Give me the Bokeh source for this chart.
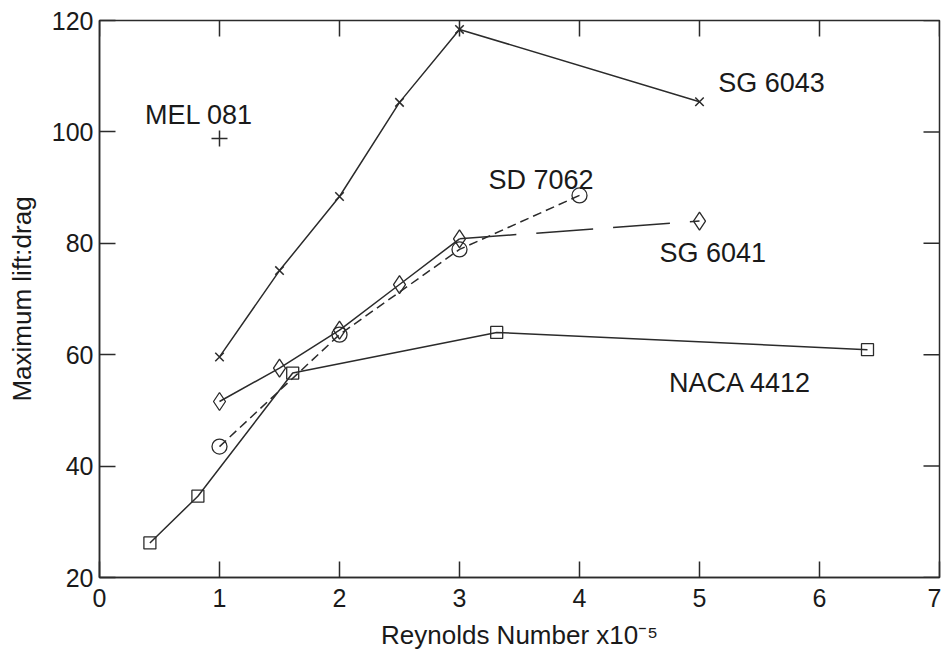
import math
from bokeh.plotting import figure
from bokeh.models import FixedTicker, Range1d, ColumnDataSource
from bokeh.embed import file_html
from bokeh.resources import INLINE
from bokeh.core.properties import value

# ---- data ----
mel081_x = [1.0]
mel081_y = [98.8]

sg6043_x = [1.0, 1.5, 2.0, 2.5, 3.0, 5.0]
sg6043_y = [59.6, 75.1, 88.4, 105.3, 118.4, 105.4]

sd7062_x = [1.0, 2.0, 3.0, 4.0]
sd7062_y = [43.5, 63.6, 78.9, 88.6]

sg6041_x = [1.0, 1.5, 2.0, 2.5, 3.0, 5.0]
sg6041_y = [51.6, 57.6, 64.4, 72.6, 80.8, 84.0]

naca4412_x = [0.42, 0.82, 1.61, 3.31, 6.40]
naca4412_y = [26.2, 34.6, 56.7, 64.0, 60.9]

x_ticks = [0, 1, 2, 3, 4, 5, 6, 7]
y_ticks = [20, 40, 60, 80, 100, 120]

label_texts = ["MEL 081", "SG 6043", "SD 7062", "SG 6041", "NACA 4412"]
# annotation anchor positions (text centre, baseline) in data units
label_x = [0.83, 5.60, 3.68, 5.11, 5.34]
label_y = [103.1, 108.8, 91.4, 78.2, 55.0]

FONT = "Liberation Sans"
INK = "#1a1a1a"
LINE = "#2b2b2b"

p = figure(width=941, height=652, output_backend="svg", toolbar_location=None,
           x_range=Range1d(x_ticks[0], x_ticks[-1]), y_range=Range1d(y_ticks[0], y_ticks[-1]),
           min_border_left=99, min_border_right=2, min_border_top=20, min_border_bottom=73,
           background_fill_color="white", border_fill_color="white")
p.grid.visible = False
p.outline_line_color = LINE
p.outline_line_width = 1.5

for ax, ticks in ((p.xaxis[0], x_ticks), (p.yaxis[0], y_ticks)):
    ax.ticker = FixedTicker(ticks=ticks)
    ax.major_tick_in = 16
    ax.major_tick_out = 0
    ax.minor_tick_line_color = None
    ax.axis_line_color = LINE
    ax.axis_line_width = 1.5
    ax.major_tick_line_color = LINE
    ax.major_tick_line_width = 1.5
    ax.major_label_text_font = FONT
    ax.major_label_text_font_size = "25px"
    ax.major_label_text_color = INK
    ax.axis_label_text_font = FONT
    ax.axis_label_text_font_size = "26px"
    ax.axis_label_text_font_style = "normal"
    ax.axis_label_text_color = INK

p.xaxis[0].axis_label = "Reynolds Number x10\u207b\u2075"
p.xaxis[0].major_label_standoff = 11
p.xaxis[0].axis_label_standoff = 10
p.yaxis[0].axis_label = "Maximum lift:drag"
p.yaxis[0].major_label_standoff = 6
p.yaxis[0].axis_label_standoff = 12

# mirrored inward ticks on the top and right edges (clipped to the frame)
p.scatter(x_ticks, [y_ticks[-1]] * len(x_ticks), marker="dash", angle=math.pi / 2,
          size=32, line_color=LINE, line_width=1.5)
p.scatter([x_ticks[-1]] * len(y_ticks), y_ticks, marker="dash", angle=0,
          size=32, line_color=LINE, line_width=1.5)

# ---- series ----
p.line(sg6043_x, sg6043_y, line_color=LINE, line_width=1.5)
p.scatter(sg6043_x, sg6043_y, marker="x", size=12, line_color=LINE, line_width=1.5, fill_alpha=0)

p.line(sd7062_x, sd7062_y, line_color=LINE, line_width=1.5, line_dash="9 5")
p.scatter(sd7062_x, sd7062_y, marker="circle", size=15, line_color=LINE, line_width=1.3, fill_alpha=0)

p.line(sg6041_x[:5], sg6041_y[:5], line_color=LINE, line_width=1.5)
p.line(sg6041_x[4:], sg6041_y[4:], line_color=LINE, line_width=1.5, line_dash="57 20")
p.scatter(sg6041_x, sg6041_y, marker="diamond", size=18, line_color=LINE, line_width=1.3, fill_alpha=0)

p.line(naca4412_x, naca4412_y, line_color=LINE, line_width=1.5)
p.scatter(naca4412_x, naca4412_y, marker="square", size=12, line_color=LINE, line_width=1.3, fill_alpha=0)

p.scatter(mel081_x, mel081_y, marker="cross", size=16, line_color=LINE, line_width=1.5)

src = ColumnDataSource(dict(x=label_x, y=label_y, t=label_texts))
p.text(x="x", y="y", text="t", source=src, text_font=value(FONT), text_font_size="27px",
       text_color=INK, text_align="center", text_baseline="alphabetic")

open("out.html", "w").write(file_html(p, INLINE))
